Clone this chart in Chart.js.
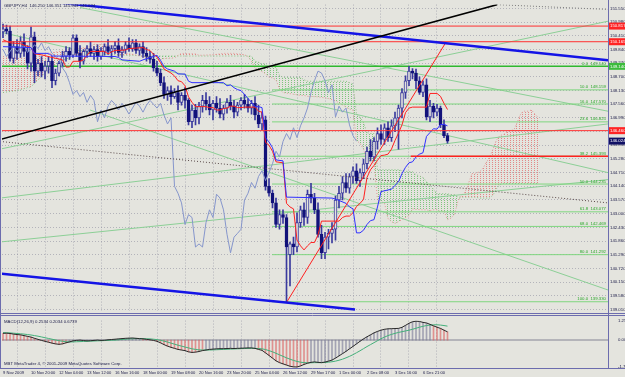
<!DOCTYPE html>
<html><head><meta charset="utf-8">
<script src="https://cdn.jsdelivr.net/npm/chart.js@4.4.1/dist/chart.umd.min.js"></script>
<style>
html,body{margin:0;padding:0;background:#e4e4de;}
#wrap{position:relative;width:625px;height:377px;overflow:hidden;background:#e4e4de;}
canvas{position:absolute;left:0;}
#c1{top:0;}
#c2{top:316px;}
</style></head><body>
<div id="wrap"><canvas id="c1" width="625" height="316"></canvas><canvas id="c2" width="625" height="61"></canvas></div>
<script>
// ---------- DATA ----------
const symbolTitle = "GBPJPY,H4  146.250 146.351 145.943 146.024";
const macdTitle = "MACD(12,26,9) 0.2534 0.2034 0.6739";
const copyright = "MBT MetaTrader 4, \u00A9 2001-2009 MetaQuotes Software Corp.";
const dateLabels = ["9 Nov 2009","10 Nov 20:00","12 Nov 04:00","13 Nov 12:00","16 Nov 16:00","18 Nov 00:00","19 Nov 08:00","20 Nov 16:00","23 Nov 20:00","25 Nov 04:00","26 Nov 12:00","29 Nov 17:00","1 Dec 00:00","2 Dec 08:00","3 Dec 16:00","6 Dec 21:00"];
const dateLabelBars = [0,8,16,24,32,40,48,56,64,72,80,88,96,104,112,120];
const priceTicks = [151.550,150.980,150.410,149.840,149.270,148.700,148.130,147.560,146.990,146.420,145.850,145.280,144.710,144.140,143.570,143.000,142.430,141.860,141.290,140.720,140.150,139.580,139.010];
const macdTicks = [1.2577,0,-1.7948];

const opens = [150.57,150.70,150.61,149.47,149.96,149.68,150.17,149.76,149.27,150.37,
148.94,149.27,148.94,149.15,149.35,148.54,148.86,149.27,149.55,149.76,
149.60,150.33,149.68,149.35,149.76,149.88,149.68,149.84,149.55,149.76,
149.96,149.76,149.88,150.00,149.72,149.84,150.04,149.88,150.12,149.80,
149.96,149.68,149.55,149.43,149.07,148.86,148.46,147.97,148.13,147.88,
148.05,147.64,147.93,147.72,146.83,147.32,146.99,147.48,147.72,147.56,
147.32,147.60,147.40,147.15,147.40,147.64,147.48,147.23,147.52,147.72,
147.56,147.40,147.60,147.11,146.74,146.91,144.14,143.85,143.45,142.55,
142.96,142.84,141.29,141.74,141.61,142.63,143.16,142.84,143.81,143.65,
143.16,142.14,141.37,142.02,142.18,142.35,143.57,143.85,144.30,144.06,
144.55,144.79,144.38,144.71,145.08,145.60,145.36,146.01,146.34,146.09,
146.58,146.17,146.66,146.99,147.40,148.05,148.54,148.94,148.86,148.54,
148.05,148.37,147.03,147.48,147.23,147.40,146.70,146.25];
const highs = [150.90,150.86,150.82,150.17,150.25,150.37,150.49,150.00,150.78,150.57,
149.43,149.55,149.35,149.51,149.55,149.03,149.35,149.76,149.96,149.92,
150.45,150.45,150.00,149.84,150.00,150.17,149.96,150.04,149.92,150.08,
150.25,150.00,150.17,150.29,149.96,150.17,150.33,150.25,150.25,150.08,
150.17,149.92,149.76,149.68,149.35,149.03,148.70,148.29,148.33,148.21,
148.33,148.05,148.25,147.80,147.52,147.56,147.64,147.93,148.05,147.88,
147.72,147.88,147.80,147.52,147.80,147.93,147.72,147.64,147.84,147.97,
147.80,147.72,147.88,147.52,147.23,147.07,144.46,143.98,143.65,143.16,
143.16,142.96,141.82,142.02,143.04,143.32,143.45,143.98,144.26,143.85,
143.45,142.51,142.22,142.35,142.63,143.73,144.14,144.55,144.67,144.67,
144.95,145.08,144.87,145.28,145.77,146.09,146.17,146.58,146.70,146.74,
146.83,146.91,147.23,147.52,148.21,148.74,149.14,149.05,149.03,148.70,
148.54,148.62,147.72,147.60,147.56,147.48,146.91,146.35];
const lows = [150.33,150.49,149.35,149.27,149.43,149.51,149.55,149.03,148.94,148.46,
148.74,148.70,148.62,148.86,148.25,148.37,148.74,149.11,149.35,149.43,
149.51,149.55,149.07,149.23,149.51,149.55,149.43,149.35,149.43,149.60,
149.64,149.47,149.68,149.55,149.51,149.68,149.76,149.76,149.68,149.60,
149.51,149.35,149.27,148.94,148.74,148.33,147.80,147.72,147.56,147.80,
147.32,147.52,147.40,146.70,146.58,146.70,146.74,147.23,147.32,147.11,
146.91,147.23,146.99,146.91,147.19,147.32,146.99,147.07,147.32,147.40,
147.23,147.15,146.91,146.58,146.50,143.98,143.73,143.24,142.43,142.35,
142.59,139.33,139.99,141.29,141.41,142.43,142.51,142.59,143.45,143.00,
142.02,141.13,141.13,141.53,141.78,141.90,143.24,143.57,143.89,143.85,
144.26,144.26,144.14,144.46,144.87,145.20,145.20,145.69,145.89,145.89,
146.01,146.01,146.42,145.69,146.99,147.80,148.33,148.62,148.21,147.97,
147.88,146.91,146.83,146.99,147.07,146.58,146.17,145.94];
const closes = [150.70,150.61,149.47,149.96,149.68,150.17,149.76,149.27,150.37,148.94,
149.27,148.94,149.15,149.35,148.54,148.86,149.27,149.55,149.76,149.60,
150.33,149.68,149.35,149.76,149.88,149.68,149.84,149.55,149.76,149.96,
149.76,149.88,150.00,149.72,149.84,150.04,149.88,150.12,149.80,149.96,
149.68,149.55,149.43,149.07,148.86,148.46,147.97,148.13,147.88,148.05,
147.64,147.93,147.72,146.83,147.32,146.99,147.48,147.72,147.56,147.32,
147.60,147.40,147.15,147.40,147.64,147.48,147.23,147.52,147.72,147.56,
147.40,147.60,147.11,146.74,146.99,144.14,143.85,143.45,142.55,142.96,
142.84,141.61,141.74,141.61,142.63,143.16,142.84,143.81,143.65,143.16,
142.14,141.37,142.02,142.18,142.35,143.57,143.85,144.30,144.06,144.55,
144.79,144.38,144.71,145.08,145.60,145.36,146.01,146.34,146.09,146.58,
146.17,146.66,146.99,147.40,148.05,148.54,148.94,148.86,148.54,148.05,
148.37,147.03,147.48,147.23,147.40,146.70,146.25,146.02];

const tenkanBars = [0,2,5,8,9,11,14,17,18,19,20,22,23,24,25,29,30,31,32,35,36,40,41,42,43,44,45,46,47,48,49,50,51,52,53,54,55,58,59,60,61,62,63,64,65,66,67,68,69,72,73,74,75,76,77,78,80,81,82,83,84,85,86,87,88,89,90,91,96,97,98,99,100,101,102,103,104,105,106,107,108,109,110,111,112,113,114,115,116,117,121,122,124,125,126,127];
const tenkanVals = [150.25,150.12,150.08,149.92,149.66,149.62,149.51,149.41,149.11,149.11,
149.35,149.35,149.41,149.60,149.76,149.76,149.66,149.74,149.80,149.82,
149.88,149.92,149.84,149.80,149.64,149.53,149.29,149.03,148.94,148.86,
148.74,148.54,148.50,148.33,147.87,147.64,147.46,147.46,147.42,147.42,
147.32,147.32,147.38,147.40,147.48,147.48,147.42,147.42,147.44,147.44,
147.27,147.23,145.97,145.85,145.60,145.16,145.12,143.43,143.28,143.20,
141.90,141.66,141.49,141.66,141.80,141.80,142.12,142.69,142.69,142.84,
142.90,142.90,143.04,143.30,143.43,143.59,144.51,144.83,145.01,145.22,
145.42,145.44,145.48,145.69,146.05,146.36,146.70,147.21,147.40,147.44,
147.44,148.01,148.01,147.89,147.60,147.34];
const kijunBars = [0,8,9,13,14,32,33,34,39,40,44,45,46,47,49,50,52,53,54,63,64,65,66,67,68,69,70,71,72,73,74,75,76,77,78,80,81,94,95,98,99,100,101,102,103,104,105,106,107,108,111,112,113,114,115,116,117,118,119,120,121,122,123,124,125,126,127];
const kijunVals = [149.96,149.92,149.68,149.68,149.57,149.55,149.51,149.41,149.35,149.41,
149.60,149.39,149.13,149.03,148.94,148.82,148.82,148.52,148.46,148.46,
148.33,148.37,148.25,148.17,148.13,147.97,147.80,147.64,147.46,147.46,
147.42,146.16,145.99,145.75,145.24,145.20,143.69,143.65,143.61,143.43,
143.28,143.20,142.20,142.20,142.31,142.55,142.71,142.75,143.28,143.92,
144.02,144.18,144.32,144.67,144.93,145.12,145.16,145.36,145.48,145.54,
146.22,146.38,146.54,146.52,146.72,146.72,146.66];

const cloudBars = [0,4,8,12,16,20,25,26,30,34,35,37,40,43,44,46,49,50,51,55,56,60,63,66,69,70,71,72,73,74,75,76,77,78,79,80,85,86,87,90,93,95,97,98,99,100,101,102,103,104,105,106,107,108,109,110,111,112,113,114,116,117,118,120,121,122,123,124,125,126,127,128,129,130,131,132,133,134,135,136,137,138,139,140,141,142,143,144,145,146,147,148,149,150,151,152,153];
const spanA = [149.55,149.47,149.47,149.64,149.76,149.84,149.96,150.06,150.02,149.92,
149.68,149.64,149.55,149.49,149.35,149.47,149.49,149.60,149.68,149.66,
149.60,149.62,149.68,149.68,149.62,149.55,149.35,149.07,148.98,148.92,
148.84,148.68,148.66,148.58,148.19,148.05,
147.93,147.93,147.89,147.87,147.80,147.70,147.54,147.44,147.36,147.32,
146.05,145.93,145.69,145.20,145.16,145.16,143.57,143.49,143.45,142.80,142.67,142.59,142.67,142.75,
142.92,143.20,143.18,
143.16,143.16,143.12,143.16,143.16,143.08,143.12,142.75,142.82,142.96,
143.53,143.77,143.89,144.26,144.67,144.69,144.73,144.85,145.12,145.34,
145.69,146.07,146.26,146.30,146.40,146.46,146.50,146.83,147.19,147.27,
147.27,147.32,147.15,146.99];
const spanB = [148.05,148.13,148.29,148.86,149.35,149.55,149.68,149.68,149.64,149.60,
149.60,149.60,149.57,149.57,149.57,149.57,149.57,149.57,149.57,149.57,
149.57,149.57,149.57,149.57,149.57,149.57,149.57,149.35,149.31,149.23,
149.23,149.11,149.11,149.09,148.76,148.68,
148.68,148.58,148.52,148.52,148.52,148.52,148.52,148.52,148.46,148.41,
147.15,147.03,146.79,146.38,146.34,146.34,144.83,144.83,144.83,144.83,144.83,144.83,144.83,144.79,
144.75,144.75,144.63,
144.51,144.34,144.18,144.02,143.83,143.83,143.83,143.83,143.79,143.79,
143.69,143.69,143.69,143.69,143.69,143.69,143.65,143.65,143.65,143.65,
143.77,144.04,144.22,144.26,144.26,144.26,144.26,144.26,144.26,144.26,
144.26,144.26,144.26,144.26];

const macdMain = [0.45,0.46,0.44,0.40,0.37,0.35,
0.30,0.25,0.20,0.12,0.05,-0.02,-0.08,
-0.14,-0.20,-0.25,-0.28,-0.25,-0.18,
-0.12,-0.05,-0.02,0.00,-0.03,-0.05,-0.04,-0.02,0.00,-0.02,-0.01,0.02,
0.04,0.06,0.08,0.10,0.12,0.13,0.14,0.12,0.10,0.08,0.05,0.02,-0.02,-0.08,
-0.18,-0.30,-0.40,-0.48,-0.55,-0.62,-0.66,-0.70,-0.78,-0.82,-0.80,-0.76,
-0.70,-0.66,-0.62,-0.60,-0.58,-0.57,-0.57,-0.56,-0.55,-0.56,-0.55,-0.54,-0.53,-0.52,-0.52,-0.55,-0.62,-0.68,
-0.85,-1.02,-1.20,-1.38,-1.50,-1.58,-1.66,-1.74,-1.78,-1.79,
-1.72,-1.62,-1.54,-1.48,-1.45,-1.48,-1.50,-1.46,-1.40,-1.33,-1.20,-1.05,-0.90,-0.75,-0.58,-0.42,-0.25,
-0.08,0.08,0.22,0.35,0.48,0.58,0.66,0.72,0.75,
0.76,0.77,0.78,0.85,0.98,1.12,1.22,1.26,1.24,1.18,1.14,1.05,0.95,0.86,0.78,0.66,0.55];
const macdSignal = [0.50,0.49,0.48,0.46,0.44,0.42,
0.40,0.37,0.34,0.30,0.26,0.21,0.16,
0.11,0.06,0.01,-0.04,-0.08,-0.11,
-0.12,-0.12,-0.11,-0.10,-0.09,-0.08,-0.07,-0.06,-0.05,-0.04,-0.03,-0.02,
-0.01,0.00,0.02,0.04,0.06,0.08,0.09,0.10,0.10,0.10,0.09,0.08,0.06,0.03,
-0.01,-0.07,-0.13,-0.20,-0.27,-0.34,-0.40,-0.46,-0.52,-0.58,-0.62,-0.65,
-0.66,-0.66,-0.66,-0.65,-0.64,-0.63,-0.62,-0.61,-0.60,-0.59,-0.58,-0.57,-0.56,-0.55,-0.55,-0.55,-0.56,-0.58,
-0.63,-0.70,-0.78,-0.88,-0.98,-1.08,-1.18,-1.27,-1.35,-1.42,
-1.47,-1.50,-1.51,-1.51,-1.50,-1.50,-1.50,-1.49,-1.47,-1.44,-1.40,-1.34,-1.27,-1.18,-1.08,-0.97,-0.84,
-0.71,-0.57,-0.43,-0.30,-0.17,-0.04,0.09,0.20,0.30,
0.38,0.45,0.51,0.56,0.61,0.66,0.72,0.79,0.86,0.92,0.97,1.00,1.02,1.02,1.00,0.97,0.93];

const fibNames = ["0.0","10.0","16.0","23.6","38.2","50.0","61.8","68.0","80.0","100.0"];
const fibPrices = [149.140,148.159,147.570,146.825,145.393,144.235,143.077,142.469,141.292,139.330];
const fibStartBar = 76.86;
const redLevels = [150.817,150.165,146.460];
const redRay = [[116.5,145.393],[172.9,145.393]];
const tagPrices = [150.817,150.165,149.140,146.460,146.024];
// trend lines: [bar, price] anchors
const blackLine = [[-0.86,146.09],[141.14,151.71]];
const blueTop = [[16.29,151.79],[172.86,149.39]];
const blueBottom = [[-0.86,140.51],[100.57,139.01]];
const redTrend = [[81.14,139.33],[126.29,150.08]];
const dottedLow = [[-0.86,146.01],[172.86,143.45]];
const dottedTop = [[141.14,151.71],[172.86,151.51]];
const greenLines = [
  [[22,151.59],[172.86,147.27]],
  [[-0.86,150.57],[172.86,144.71]],
  [[24.86,147.32],[172.86,139.82]],
  [[-0.86,141.82],[172.86,144.42]],
  [[-0.86,143.65],[172.86,146.74]],
  [[-0.86,145.69],[172.86,151.02]]
];

// ---------- STYLE ----------
const BG = '#e4e4de';
const FRAME = '#6c6cae';
const GRID = 'rgba(130,130,150,0.5)';
const TXT = '#1c1c48';
const FONT = "'Liberation Sans', Arial, sans-serif";
const BEAR = '#12127a';
const BULL = '#3a3a9e';
const TAG_COLORS = ['#ff2424','#ff2424','#3cbc3c','#ff2424','#101064'];
const X_MIN = -0.29, X_MAX = 172.86;

function pts(bars, vals){ return bars.map((b,i)=>({x:b,y:vals[i]})); }
function seg(l){ return l.map(p=>({x:p[0],y:p[1]})); }
function dots(color){
  const c=document.createElement('canvas'); c.width=3; c.height=2;
  const g=c.getContext('2d'); g.fillStyle=color; g.fillRect(0,0,1,1);
  return g.createPattern(c,'repeat');
}
function lineDs(data,color,width,order,dash){
  return {type:'line',data,borderColor:color,borderWidth:width,pointRadius:0,fill:false,tension:0,order,borderDash:dash||[]};
}

const idx = closes.map((_,i)=>i);
const datasets = [];
// cloud (dataset 0 & 1)
datasets.push({type:'line',data:pts(cloudBars,spanA),borderColor:'rgba(225,140,140,0.9)',borderWidth:1,borderDash:[1,2],pointRadius:0,tension:0,order:100,
  fill:{target:1,above:dots('rgba(225,120,120,0.85)'),below:dots('rgba(110,190,110,0.85)')}});
datasets.push({type:'line',data:pts(cloudBars,spanB),borderColor:'rgba(120,190,120,0.9)',borderWidth:1,borderDash:[1,2],pointRadius:0,tension:0,order:100,fill:false});
// green diagonals
greenLines.forEach(l=>datasets.push(lineDs(seg(l),'#8ccf96',1,90)));
// fib levels
fibPrices.forEach((p,i)=>{
  if(i===0) datasets.push(lineDs([{x:X_MIN,y:p},{x:X_MAX,y:p}],'#2fb82f',1.5,80));
  else datasets.push(lineDs([{x:fibStartBar,y:p},{x:X_MAX,y:p}],'#7fd67f',1,80));
});
// candles
datasets.push({type:'bar',data:idx.map(i=>({x:i,y:[lows[i],highs[i]]})),backgroundColor:BULL,borderWidth:0,barThickness:1,grouped:false,order:61});
datasets.push({type:'bar',data:idx.map(i=>({x:i,y:[opens[i],closes[i]]})),
  backgroundColor:c=>closes[c.dataIndex]>=opens[c.dataIndex]?BG:BEAR,
  borderColor:c=>closes[c.dataIndex]>=opens[c.dataIndex]?BULL:BEAR,
  borderWidth:1,borderSkipped:false,barThickness:3,grouped:false,order:60});
// ichimoku lines
datasets.push(lineDs(closes.slice(26).map((c,j)=>({x:j,y:c})),'#8696cc',1,45));
datasets.push(lineDs(pts(kijunBars,kijunVals),'#3030ff',1,40));
datasets.push(lineDs(pts(tenkanBars,tenkanVals),'#ff2020',1,40));
// objects
redLevels.forEach(p=>datasets.push(lineDs([{x:X_MIN,y:p},{x:X_MAX,y:p}],'#ff3030',1,12)));
datasets.push(lineDs(seg(redRay),'#ff2020',1.5,12));
datasets.push(lineDs(seg(dottedLow),'#5a4a4a',1,11,[1,2]));
datasets.push(lineDs(seg(dottedTop),'#7a7a7a',1,11,[1,2]));
datasets.push(lineDs(seg(blackLine),'#000000',1.5,10));
datasets.push(lineDs(seg(blueTop),'#1414e6',2.5,10));
datasets.push(lineDs(seg(blueBottom),'#1414e6',2.5,10));
datasets.push(lineDs(seg(redTrend),'#ff2020',1,10));

const mainDeco = {
  id:'mainDeco',
  beforeDraw(c){ const g=c.ctx; g.save(); g.fillStyle=BG; g.fillRect(0,0,c.width,c.height); g.restore(); },
  afterDraw(c){
    const g=c.ctx, a=c.chartArea, ys=c.scales.y, xs=c.scales.x;
    g.save();
    // fib labels
    g.font='4.3px '+FONT; g.textAlign='right'; g.textBaseline='bottom'; g.fillStyle='#2aa82a';
    fibPrices.forEach((p,i)=>{ g.fillText(fibNames[i]+'  '+p.toFixed(3), a.right-2, ys.getPixelForValue(p)-0.5); });
    // header
    g.textAlign='left'; g.textBaseline='middle'; g.fillStyle=TXT; g.font='4.3px '+FONT;
    g.fillText(symbolTitle, 4, 6);
    // frame
    g.strokeStyle=FRAME; g.lineWidth=1;
    g.beginPath(); g.moveTo(a.right+0.5,0); g.lineTo(a.right+0.5,c.height); g.stroke();
    g.beginPath(); g.moveTo(0.5,0); g.lineTo(0.5,c.height); g.stroke();
    g.beginPath(); g.moveTo(0,313.5); g.lineTo(c.width,313.5); g.stroke();
    g.beginPath(); g.moveTo(0,315.5); g.lineTo(c.width,315.5); g.stroke();
    // price tags
    g.font='4.3px '+FONT; g.textAlign='left'; g.textBaseline='middle';
    tagPrices.forEach((p,i)=>{
      const y=ys.getPixelForValue(p);
      g.fillStyle=TAG_COLORS[i]; g.fillRect(a.right+1,y-3.5,16,7);
      g.fillStyle='#ffffff'; g.fillText(p.toFixed(3), a.right+2, y);
    });
    g.restore();
  }
};

new Chart(document.getElementById('c1'),{
  type:'bar',
  data:{datasets},
  options:{
    responsive:false, maintainAspectRatio:false, animation:false, devicePixelRatio:1, events:[],
    layout:{padding:{left:2,top:2,right:0,bottom:0}},
    plugins:{legend:{display:false},tooltip:{enabled:false}},
    scales:{
      x:{type:'linear',min:X_MIN,max:X_MAX,offset:false,
        afterBuildTicks:s=>{s.ticks=dateLabelBars.map(v=>({value:v}));},
        ticks:{display:false},grid:{color:GRID,drawTicks:false,lineWidth:1},
        border:{display:false,dash:[1,2]},afterFit:s=>{s.height=0;}},
      y:{type:'linear',position:'right',min:138.927,max:151.713,
        afterBuildTicks:s=>{s.ticks=priceTicks.map(v=>({value:v}));},
        ticks:{font:{size:4.3,family:FONT},color:TXT,padding:2,autoSkip:false,callback:v=>Number(v).toFixed(3)},
        grid:{color:GRID,drawTicks:false,lineWidth:1},border:{display:false,dash:[1,2]},
        afterFit:s=>{s.width=17;}}
    }
  },
  plugins:[mainDeco]
});

// ---------- MACD ----------
const macdDeco = {
  id:'macdDeco',
  beforeDraw(c){ const g=c.ctx; g.save(); g.fillStyle=BG; g.fillRect(0,0,c.width,c.height); g.restore(); },
  afterDraw(c){
    const g=c.ctx, a=c.chartArea;
    g.save();
    g.font='4.3px '+FONT; g.fillStyle=TXT; g.textAlign='left'; g.textBaseline='middle';
    g.fillText(macdTitle, 4, 6);
    g.fillText(copyright, 4, 48);
    g.strokeStyle=FRAME; g.lineWidth=1;
    g.beginPath(); g.moveTo(a.right+0.5,0); g.lineTo(a.right+0.5,a.bottom+1); g.stroke();
    g.beginPath(); g.moveTo(0.5,0); g.lineTo(0.5,a.bottom+1); g.stroke();
    g.beginPath(); g.moveTo(0,a.bottom+0.5); g.lineTo(c.width,a.bottom+0.5); g.stroke();
    g.restore();
  }
};

new Chart(document.getElementById('c2'),{
  type:'bar',
  data:{datasets:[
    {type:'line',data:[{x:X_MIN,y:0},{x:X_MAX,y:0}],borderColor:'#a4a4ac',borderWidth:1.5,pointRadius:0,order:70},
    {type:'bar',data:idx.map(i=>({x:i,y:macdMain[i]})),
      backgroundColor:c=>macdMain[c.dataIndex]<macdSignal[c.dataIndex]?'rgba(220,90,90,0.6)':'rgba(120,120,150,0.6)',
      borderWidth:0,barThickness:1,grouped:false,order:60},
    {type:'line',data:idx.map(i=>({x:i,y:macdSignal[i]})),borderColor:'#44b07a',borderWidth:1,pointRadius:0,tension:0,order:20},
    {type:'line',data:idx.map(i=>({x:i,y:macdMain[i]})),borderColor:'#2a2a2a',borderWidth:1,pointRadius:0,tension:0,order:10}
  ]},
  options:{
    responsive:false, maintainAspectRatio:false, animation:false, devicePixelRatio:1, events:[],
    layout:{padding:{left:2,top:1,right:0,bottom:0}},
    plugins:{legend:{display:false},tooltip:{enabled:false}},
    scales:{
      x:{type:'linear',min:X_MIN,max:X_MAX,offset:false,
        afterBuildTicks:s=>{s.ticks=dateLabelBars.map(v=>({value:v}));},
        ticks:{font:{size:4.1,family:FONT},color:TXT,padding:2,align:'start',maxRotation:0,autoSkip:false,
          callback:v=>dateLabels[dateLabelBars.indexOf(v)]},
        grid:{color:GRID,drawTicks:false,lineWidth:1},border:{display:false,dash:[1,2]},
        afterFit:s=>{s.height=9;}},
      y:{type:'linear',position:'right',min:-1.857,max:1.30,
        afterBuildTicks:s=>{s.ticks=macdTicks.map(v=>({value:v}));},
        ticks:{font:{size:4.3,family:FONT},color:TXT,padding:2,autoSkip:false,callback:v=>v===0?'0.00':Number(v).toFixed(4)},
        grid:{display:false},border:{display:false},
        afterFit:s=>{s.width=17;}}
    }
  },
  plugins:[macdDeco]
});
</script></body></html>
